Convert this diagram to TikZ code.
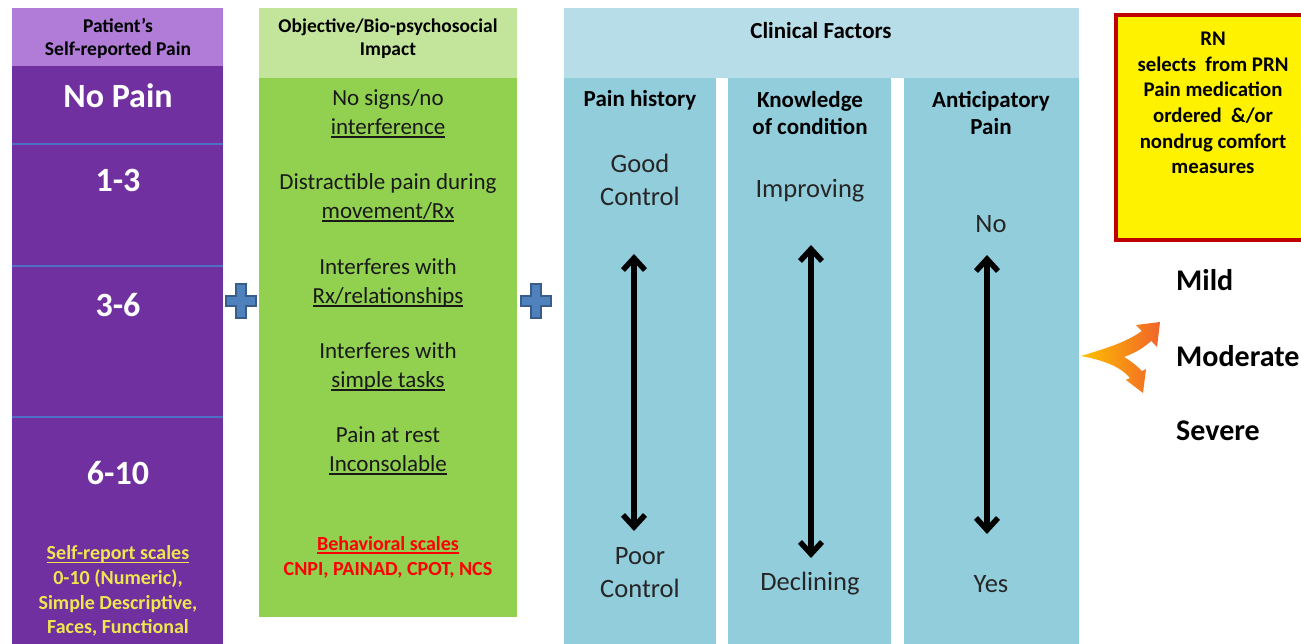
\documentclass[tikz,border=0pt]{standalone}
\usepackage{fontspec}
\setmainfont{Carlito}
\usetikzlibrary{arrows.meta}
\definecolor{purpHdr}{HTML}{B07CD8}
\definecolor{purpBody}{HTML}{7030A0}
\definecolor{purpLine}{HTML}{4F6EC4}
\definecolor{greenHdr}{HTML}{C3E59B}
\definecolor{greenBody}{HTML}{92D050}
\definecolor{blueHdr}{HTML}{B7DDE8}
\definecolor{blueCol}{HTML}{92CDDC}
\definecolor{plusFill}{HTML}{4F81BD}
\definecolor{plusEdge}{HTML}{385D8A}
\definecolor{scaleYellow}{HTML}{EEE650}
\definecolor{rnRed}{HTML}{C00000}
\definecolor{arrYellow}{HTML}{FFC000}
\definecolor{arrOrange}{HTML}{F0642A}
\newcommand{\myul}[1]{\setbox0\hbox{#1}\rlap{\rule[-3.5pt]{\wd0}{1.6pt}}\box0}
\tikzset{
  hdrtext/.style={inner sep=0pt, align=center, font=\bfseries\fontsize{19.5}{23}\selectfont, text=black},
  levtext/.style={inner sep=0pt, align=center, font=\bfseries\fontsize{34}{40}\selectfont, text=white},
  imptext/.style={inner sep=0pt, align=center, font=\fontsize{23}{28.5}\selectfont, text=black!90},
  scaletext/.style={inner sep=0pt, align=center, font=\bfseries\fontsize{20}{24.7}\selectfont},
  clinhdr/.style={inner sep=0pt, align=center, font=\bfseries\fontsize{23}{27}\selectfont, text=black},
  clintext/.style={inner sep=0pt, align=center, font=\fontsize{26.5}{33}\selectfont, text=black!85},
  rntext/.style={inner sep=0pt, align=center, font=\bfseries\fontsize{20.8}{25.6}\selectfont, text=black},
  sevtext/.style={inner sep=0pt, anchor=west, font=\bfseries\fontsize{30}{34}\selectfont, text=black},
  dblarrow/.style={line width=5.5pt, black, {Straight Barb[length=12pt,width=22pt]}-{Straight Barb[length=12pt,width=22pt]}},
  plussign/.pic={\filldraw[fill=plusFill, draw=plusEdge, line width=1.3pt]
     (-5,-17) -- (5,-17) -- (5,-5) -- (15,-5) -- (15,5) -- (5,5) -- (5,17) -- (-5,17)
     -- (-5,5) -- (-15,5) -- (-15,-5) -- (-5,-5) -- cycle;}
}
\begin{document}
\begin{tikzpicture}[x=1pt,y=-1pt]
\useasboundingbox (0,0) rectangle (1301,644);
\clip (0,0) rectangle (1301,644);
\fill[white] (0,0) rectangle (1301,644);

% ---------- Patient's self-reported pain column ----------
\fill[purpHdr] (12,8) rectangle (223,66);
\fill[purpBody] (12,66) rectangle (223,644);
\draw[purpLine, line width=1.5pt] (12,144) -- (223,144);
\draw[purpLine, line width=1.5pt] (12,266) -- (223,266);
\draw[purpLine, line width=1.5pt] (12,417) -- (223,417);
\node[hdrtext] (phdr) at (118,38) {Patient’s\\Self-reported Pain};
\node[levtext] (l0) at (118,96) {No Pain};
\node[levtext] (l1) at (118,180) {1-3};
\node[levtext] (l2) at (118,305) {3-6};
\node[levtext] (l3) at (118,473) {6-10};
\node[scaletext, text=scaleYellow] (sscale) at (118,591)
  {\myul{Self-report scales}\\0-10 (Numeric),\\Simple Descriptive,\\Faces, Functional};

% ---------- plus signs ----------
\pic (plusA) at (241,301) {plussign};
\pic (plusB) at (536,301) {plussign};

% ---------- Objective / bio-psychosocial impact column ----------
\fill[greenHdr] (259,8) rectangle (517,78);
\fill[greenBody] (259,78) rectangle (517,617);
\node[hdrtext] (ghdr) at (388,39) {Objective/Bio-psychosocial\\Impact};
\node[imptext] (g1) at (388,114) {No signs/no\\\myul{interference}};
\node[imptext] (g2) at (388,198) {Distractible pain during\\\myul{movement/Rx}};
\node[imptext] (g3) at (388,283) {Interferes with\\\myul{Rx/relationships}};
\node[imptext] (g4) at (388,367) {Interferes with\\\myul{simple tasks}};
\node[imptext] (g5) at (388,451) {Pain at rest\\\myul{Inconsolable}};
\node[scaletext, text=red] (bscale) at (388,557)
  {\myul{Behavioral scales}\\CNPI, PAINAD, CPOT, NCS};

% ---------- Clinical factors ----------
\fill[blueHdr] (564,8) rectangle (1079,78);
\fill[blueCol] (564,78) rectangle (716,644);
\fill[blueCol] (728,78) rectangle (891,644);
\fill[blueCol] (904,78) rectangle (1079,644);
\node[clinhdr] (chdr) at (821,31) {Clinical Factors};
\node[clinhdr] (c1h) at (640,100) {Pain history};
\node[clinhdr] (c2h) at (810,113) {Knowledge\\of condition};
\node[clinhdr] (c3h) at (991,113) {Anticipatory\\Pain};
\node[clintext] (c1t) at (640,180) {Good\\Control};
\node[clintext] (c2t) at (810,191) {Improving};
\node[clintext] (c3t) at (991,224) {No};
\node[clintext] (c1b) at (640,573) {Poor\\Control};
\node[clintext] (c2b) at (810,584) {Declining};
\node[clintext] (c3b) at (991,584) {Yes};
\coordinate (a1t) at (634,254);
\coordinate (a1b) at (634,531);
\coordinate (a2t) at (811,245);
\coordinate (a2b) at (811,558);
\coordinate (a3t) at (987,255);
\coordinate (a3b) at (987,534);
\draw[dblarrow] (a1t) -- (a1b);
\draw[dblarrow] (a2t) -- (a2b);
\draw[dblarrow] (a3t) -- (a3b);

% ---------- RN box ----------
\draw[fill=yellow, draw=rnRed, line width=3.5pt] (1116,15) rectangle (1320,240);
\node[rntext] (rn) at (1213,103)
  {RN\\selects\ \ from PRN\\Pain medication\\ordered\ \ \&/or\\nondrug comfort\\measures};

% ---------- split arrow ----------
\shade[left color=arrYellow, right color=arrOrange]
  (1081,356) .. controls (1100,350) and (1126,343) .. (1141.7,331)
  -- (1136,325) -- (1160,322) -- (1157,347) -- (1151.3,341)
  .. controls (1141,350) and (1132,354) .. (1124,357)
  .. controls (1131,361) and (1137,366) .. (1142.1,371.1)
  -- (1146,369) -- (1143,393) -- (1126,380) -- (1129.9,377.9)
  .. controls (1120,366) and (1102,360) .. (1081,356) -- cycle;

% ---------- severity labels ----------
\node[sevtext] (mild) at (1176,280) {Mild};
\node[sevtext] (mod) at (1176,356) {Moderate};
\node[sevtext] (sev) at (1176,431) {Severe};
\end{tikzpicture}
\end{document}
